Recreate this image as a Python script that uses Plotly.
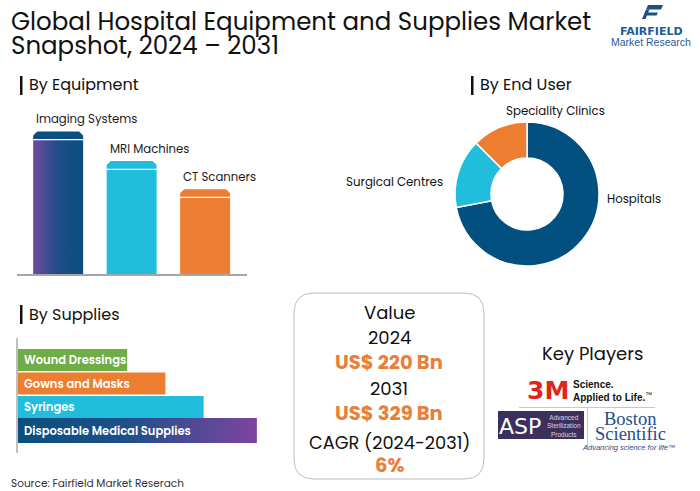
import plotly.graph_objects as go

# ---------------- data ----------------
title_line1 = "Global Hospital Equipment and Supplies Market"
title_line2 = "Snapshot, 2024 \u2013 2031"

equipment = ["Imaging Systems", "MRI Machines", "CT Scanners"]
equipment_values = [40.0, 31.7, 23.8]
equipment_colors = ["#0A4F7E", "#20BEDC", "#ED7D31"]

end_users = ["Hospitals", "Surgical Centres", "Speciality Clinics"]
end_user_shares = [72.0, 15.5, 12.5]
end_user_colors = ["#02507F", "#20BEDC", "#ED7D31"]

supplies = ["Wound Dressings", "Gowns and Masks", "Syringes", "Disposable Medical Supplies"]
supplies_values = [40.0, 54.0, 68.0, 87.5]
supplies_colors = ["#70AD47", "#ED7D31", "#20BEDC", None]

value_labels = ["Value", "2024", "US$ 220 Bn", "2031", "US$ 329 Bn", "CAGR (2024-2031)", "6%"]
key_players = ["3M", "Advanced Sterilization Products", "Boston Scientific"]
source_text = "Source: Fairfield Market Reserach"

# ---------------- helpers ----------------
W, H = 700, 491
FONT = "Poppins, 'Open Sans', sans-serif"
ORANGE = "#E8803A"


def px(x):
    return x / W


def py(y):
    return 1 - y / H


fig = go.Figure()
annotations = []
shapes = []


def note(text, x, y, size, color="#111111", xanchor="left", yanchor="middle", family=FONT, weight=None, **kw):
    font = dict(size=size, color=color, family=family)
    if weight:
        font["weight"] = weight
    annotations.append(dict(text=text, x=px(x), y=py(y), xref="paper", yref="paper",
                            xanchor=xanchor, yanchor=yanchor, showarrow=False, font=font, **kw))


# ---------------- equipment bars (x/y) ----------------
half_w = 0.34
cap = 2.5
gap = 0.35
inset = 0.055
for i, (name, v) in enumerate(zip(equipment, equipment_values)):
    body_x = [i - half_w, i + half_w, i + half_w, i - half_w, i - half_w]
    body_y = [0, 0, v - cap, v - cap, 0]
    body = dict(x=body_x, y=body_y, mode="lines", fill="toself", line=dict(width=0),
                hoverinfo="skip", xaxis="x", yaxis="y")
    if i == 0:
        body["fillgradient"] = dict(type="horizontal",
                                    colorscale=[[0, "#6E4AA0"], [0.5, "#1F4D89"], [1, "#0A4F7E"]])
        body["fillcolor"] = "#0A4F7E"
    else:
        body["fillcolor"] = equipment_colors[i]
    fig.add_trace(go.Scatter(**body))
    cb = v - cap + gap
    cap_x = [i - half_w, i + half_w, i + half_w, i + half_w - inset, i - half_w + inset, i - half_w, i - half_w]
    cap_y = [cb, cb, v - cap * 0.45, v, v, v - cap * 0.45, cb]
    fig.add_trace(go.Scatter(x=cap_x, y=cap_y, mode="lines", fill="toself", line=dict(width=0),
                             fillcolor=equipment_colors[i], hoverinfo="skip", xaxis="x", yaxis="y"))
    annotations.append(dict(text=name, x=i - half_w, y=v, xref="x", yref="y",
                            xanchor="left", yanchor="bottom", xshift=1, yshift=2, showarrow=False,
                            font=dict(size=11.7, color="#1a1a1a", family=FONT)))

# ---------------- supplies bars (x2/y2) ----------------
positions = [3, 2, 1, 0]
for name, v, c, p in zip(supplies, supplies_values, supplies_colors, positions):
    if c is not None:
        fig.add_trace(go.Bar(x=[v], y=[p], base=0, orientation="h", width=0.93,
                             marker=dict(color=c, line=dict(width=0)),
                             hoverinfo="skip", xaxis="x2", yaxis="y2"))
    else:
        hh = 0.53
        fig.add_trace(go.Scatter(x=[0, v, v, 0, 0], y=[p - hh, p - hh, p + hh, p + hh, p - hh],
                                 mode="lines", fill="toself", line=dict(width=0), fillcolor="#0B4F7E",
                                 fillgradient=dict(type="horizontal",
                                                   colorscale=[[0, "#0B4F7E"], [0.45, "#1E4F88"], [1, "#7E44A2"]]),
                                 hoverinfo="skip", xaxis="x2", yaxis="y2"))
    annotations.append(dict(text=name, x=0, y=p, xref="x2", yref="y2", xanchor="left", yanchor="middle",
                            xshift=4, showarrow=False,
                            font=dict(size=11.5, color="white", family=FONT, weight=600)))

# ---------------- donut ----------------
cx, cy, r = 527, 194, 72
fig.add_trace(go.Pie(labels=end_users, values=end_user_shares, hole=0.5, sort=False, direction="clockwise",
                     rotation=0, textinfo="none", hoverinfo="skip",
                     marker=dict(colors=end_user_colors, line=dict(color="white", width=1.5)),
                     domain=dict(x=[px(cx - r), px(cx + r)], y=[py(cy + r), py(cy - r)])))
note(end_users[0], 605, 199, 11.8)
note(end_users[1], 445, 182, 11.8, xanchor="right")
note(end_users[2], 555, 111, 11.8, xanchor="center")

# ---------------- titles ----------------
note(title_line1, 9, 21, 24.5, color="#111111")
note(title_line2, 9, 45, 24.5, color="#111111")

for (label, x, y) in [("By Equipment", 27, 85), ("By End User", 478, 85), ("By Supplies", 27, 314)]:
    shapes.append(dict(type="rect", xref="paper", yref="paper", x0=px(x - 7), x1=px(x - 4.5),
                       y0=py(y + 10), y1=py(y - 9), fillcolor="#111111", line=dict(width=0)))
    note(label, x, y, 16, color="#111111")

# ---------------- value box ----------------
bx0, bx1, by0, by1, rr = 294, 484, 293, 479, 20
path = (f"M {px(bx0 + rr)},{py(by0)} L {px(bx1 - rr)},{py(by0)} "
        f"Q {px(bx1)},{py(by0)} {px(bx1)},{py(by0 + rr)} L {px(bx1)},{py(by1 - rr)} "
        f"Q {px(bx1)},{py(by1)} {px(bx1 - rr)},{py(by1)} L {px(bx0 + rr)},{py(by1)} "
        f"Q {px(bx0)},{py(by1)} {px(bx0)},{py(by1 - rr)} L {px(bx0)},{py(by0 + rr)} "
        f"Q {px(bx0)},{py(by0)} {px(bx0 + rr)},{py(by0)} Z")
shapes.append(dict(type="path", path=path, xref="paper", yref="paper", line=dict(color="#BDBDBD", width=1)))
vx = 389
note(value_labels[0], vx, 312, 18, xanchor="center")
note(value_labels[1], vx, 337, 18, xanchor="center")
note(value_labels[2], vx, 362, 19.5, color=ORANGE, xanchor="center", weight=700)
note(value_labels[3], vx, 388, 18, xanchor="center")
note(value_labels[4], vx, 413, 19.5, color=ORANGE, xanchor="center", weight=700)
note(value_labels[5], vx, 442, 17.8, xanchor="center")
note(value_labels[6], vx, 465, 19.5, color=ORANGE, xanchor="center", weight=700)

# ---------------- key players ----------------
note("Key Players", 592, 353, 18, xanchor="center")
note("<b>3M</b>", 548, 390, 25, color="#E1251B", xanchor="center", family="'DejaVu Sans', sans-serif")
note("<b>Science.</b>", 571, 384, 10, color="#111111", family="'Liberation Sans', sans-serif")
note("<b>Applied to Life.</b><sup>\u2122</sup>", 571, 397, 10, color="#111111",
     family="'Liberation Sans', sans-serif")
shapes.append(dict(type="line", xref="paper", yref="paper", x0=px(519), x1=px(655), y0=py(407.5), y1=py(407.5),
                   line=dict(color="#C8C8C8", width=1)))
shapes.append(dict(type="line", xref="paper", yref="paper", x0=px(587.5), x1=px(587.5), y0=py(407.5), y1=py(448),
                   line=dict(color="#C8C8C8", width=1)))
shapes.append(dict(type="rect", xref="paper", yref="paper", x0=px(498), x1=px(584), y0=py(439), y1=py(411),
                   fillcolor="#3B2F5C", line=dict(width=0)))
note("ASP", 520, 426, 22, color="white", xanchor="center", family="'DejaVu Sans', sans-serif")
note("Advanced<br>Sterilization<br>Products", 545, 426, 6.5, color="#D9D4E6", family="'Liberation Sans', sans-serif")
note("Boston", 630, 419, 18.5, color="#1F4E8D", xanchor="center", family="'Liberation Serif', serif")
note("Scientific", 630, 433.5, 18.5, color="#1F4E8D", xanchor="center", family="'Liberation Serif', serif")
note("<i>Advancing science for life</i>\u2122", 629, 447, 7.5, color="#1F4E8D", xanchor="center",
     family="'Liberation Sans', sans-serif")

# ---------------- fairfield logo ----------------
def poly(pts, color):
    d = "M " + " L ".join(f"{px(x)},{py(y)}" for x, y in pts) + " Z"
    shapes.append(dict(type="path", path=d, xref="paper", yref="paper", fillcolor=color, line=dict(width=0)))


poly([(648, 5), (663, 5), (661, 9.5), (646, 9.5)], "#1B4F8A")
poly([(646, 9.5), (649.5, 9.5), (645.5, 19), (642, 19)], "#1B4F8A")
poly([(647.5, 12.5), (658, 12.5), (656.5, 15.5), (646.5, 15.5)], "#1B4F8A")
note("<b>FAIRFIELD</b>", 651, 31.5, 11, color="#1D5A98", xanchor="center", family="'DejaVu Sans', sans-serif")
note("Market Research", 651, 42, 10.5, color="#2A5C96", xanchor="center", family="'Liberation Sans', sans-serif")

# ---------------- source ----------------
note(source_text, 9, 483, 10.5, color="#333333")

fig.update_layout(
    width=W, height=H, margin=dict(l=0, r=0, t=0, b=0),
    paper_bgcolor="white", plot_bgcolor="white", showlegend=False,
    xaxis=dict(domain=[px(17), px(247)], range=[-0.56, 2.57], showgrid=False, zeroline=False,
               showticklabels=False, showline=True, linecolor="#A6A6A6", linewidth=1.5, fixedrange=True,
               anchor="y"),
    yaxis=dict(domain=[py(274), py(110)], range=[0, 46], visible=False, fixedrange=True, anchor="x"),
    xaxis2=dict(domain=[px(18), px(291)], range=[0, 100], visible=False, fixedrange=True, anchor="y2"),
    yaxis2=dict(domain=[py(453), py(338)], range=[-0.957, 3.936], showgrid=False, zeroline=False,
                showticklabels=False, showline=True, linecolor="#BFBFBF", linewidth=2, fixedrange=True,
                anchor="x2"),
    annotations=annotations, shapes=shapes,
)

fig.write_html("out.html", config={"displayModeBar": False},
               post_script="document.body.style.margin='0';document.body.style.overflow='hidden';")
